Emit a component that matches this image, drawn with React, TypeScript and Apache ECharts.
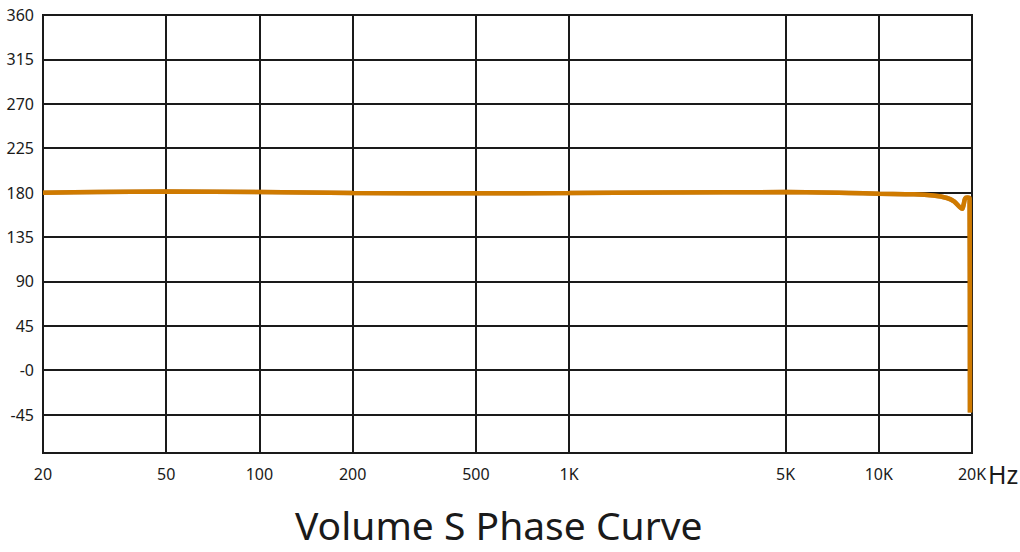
import React, { useEffect, useRef } from "react";
import * as echarts from "echarts";

const freqs = [20, 30, 50, 100, 200, 500, 1000, 2000, 5000, 8000, 10000, 13000, 15000, 16600, 17500, 18300, 18600, 18800, 19000, 19300, 19650, 19700];
const phase = [179.8, 180.5, 181, 180.5, 179.6, 179.3, 179.5, 180, 180.5, 179.6, 178.8, 178.3, 177, 174.5, 171, 165, 163.5, 168, 174, 175, 174, -43];
const xTicks = [20, 50, 100, 200, 500, 1000, 5000, 10000, 20000];
const yTicks = [-45, 0, 45, 90, 135, 180, 225, 270, 315, 360];

const fmtHz = (v: number) => (v >= 1000 ? `${Math.round(v / 1000)}K` : `${v}`);

export default function App() {
  const ref = useRef<HTMLDivElement>(null);
  useEffect(() => {
    if (!ref.current) return;
    const chart = echarts.init(ref.current, undefined, { renderer: "svg" });
    chart.setOption({
      animation: false,
      backgroundColor: "#ffffff",
      textStyle: { fontFamily: "Noto Sans" },
      grid: {
        left: 43,
        right: 48,
        top: 15,
        bottom: 99,
        show: true,
        borderColor: "#1a1a1a",
        borderWidth: 2,
        containLabel: false,
      },
      xAxis: {
        type: "log",
        logBase: 10,
        min: 20,
        max: 20000,
        axisLine: { show: false },
        axisTick: { show: false, customValues: xTicks },
        axisLabel: {
          customValues: xTicks,
          formatter: (v: number) => fmtHz(v),
          fontSize: 16,
          color: "#1a1a1a",
          margin: 13,
          fontFamily: "Noto Sans",
        },
        splitLine: { show: true, lineStyle: { color: "#1a1a1a", width: 2 } },
        minorSplitLine: { show: false },
      },
      yAxis: {
        type: "value",
        min: -84,
        max: 360,
        axisLine: { show: false },
        axisTick: { show: false, customValues: yTicks },
        axisLabel: {
          customValues: yTicks,
          formatter: (v: number) => (v === 0 ? "-0" : `${v}`),
          fontSize: 16,
          color: "#1a1a1a",
          margin: 9,
          fontFamily: "Noto Sans",
        },
        splitLine: { show: true, lineStyle: { color: "#1a1a1a", width: 2 } },
      },
      series: [
        {
          type: "line",
          data: freqs.map((f, i) => [f, phase[i]]),
          smooth: 0.3,
          showSymbol: false,
          lineStyle: { color: "#CF7A06", width: 4.5, shadowColor: "rgba(140,70,0,0.6)", shadowBlur: 1 },
          z: 5,
        },
      ],
      graphic: [
        {
          type: "text",
          left: 988,
          top: 461,
          style: { text: "Hz", fontSize: 25, fill: "#1a1a1a", fontFamily: "Noto Sans" },
        },
        {
          type: "text",
          left: 295,
          top: 505,
          style: { text: "Volume S Phase Curve", fontSize: 39, fill: "#1a1a1a", fontFamily: "Noto Sans" },
        },
      ],
    });
    return () => chart.dispose();
  }, []);
  return <div ref={ref} style={{ position: "absolute", left: 0, top: 0, width: 1020, height: 552 }} />;
}
